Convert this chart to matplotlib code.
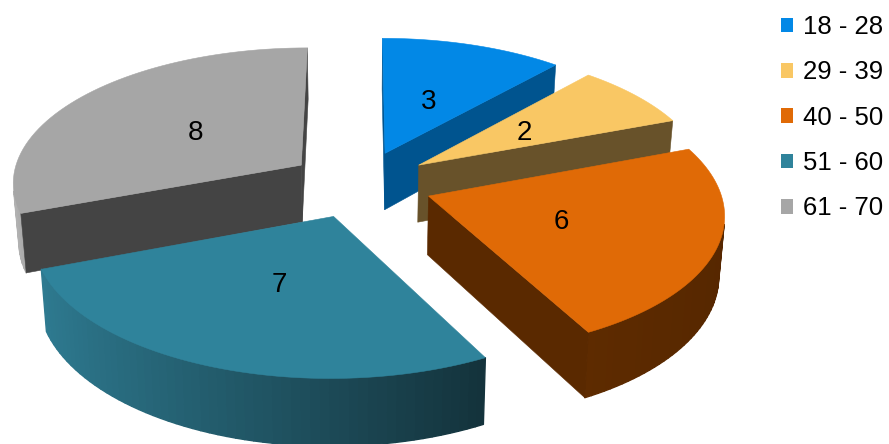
#! /usr/bin/env python
import numpy as np
import matplotlib
matplotlib.use("Agg")
import matplotlib.pyplot as plt
from matplotlib.patches import Polygon, Patch
from matplotlib.colors import LinearSegmentedColormap

plt.rcParams["font.family"] = ["Liberation Sans", "DejaVu Sans"]

# Chart data
age_groups = ["18 - 28", "29 - 39", "40 - 50", "51 - 60", "61 - 70"]
counts = [3, 2, 6, 7, 8]

# Colours for top face, flat cut faces, outer wall left and right
top_colours = ["#0288e6", "#f9c764", "#e06a06", "#2f839b", "#a6a6a6"]
cut_colours = ["#00548f", "#68522a", "#5a2900", "#1f5566", "#444444"]
wall_left = ["#00609f", "#7a6030", "#5e2b00", "#2e7a90", "#b4b4b4"]
wall_right = ["#003d66", "#5a4520", "#562700", "#14333c", "#303030"]
draw_order = [4, 0, 1, 2, 3]

# Projection settings, in pixels of the 889x444 image
centre_x, centre_y = 360, 184
radius_x, radius_y = 290, 135
camera_dist = 8.6
thickness = 58
explode = 0.25
label_radius = 0.47
label_drop = 2


def project(x, y, z=0.0):
    # Small perspective: far things shrink, and the underside shrinks a bit too
    scale = camera_dist / (camera_dist + y)
    px = centre_x + radius_x * x * scale * (1 - 0.016 * z)
    py = centre_y - radius_y * y * scale + thickness * z * scale
    return px, py


def signed_area(points):
    xs, ys = np.array(points).T
    return 0.5 * np.sum(xs * np.roll(ys, -1) - np.roll(xs, -1) * ys)


def add_face(axes, points, colour, zorder, width=0.4):
    # Only faces turned towards the viewer get drawn
    if signed_area(points) < 0:
        axes.add_patch(Polygon(points, closed=True, facecolor=colour, edgecolor=colour,
                               linewidth=width, joinstyle="round", zorder=zorder))


figure = plt.figure(figsize=(8.89, 4.44), dpi=100)
axes = figure.add_axes([0, 0, 1, 1])
axes.set_xlim(0, 889)
axes.set_ylim(444, 0)
axes.axis("off")

edges = np.concatenate([[0], np.cumsum(counts)]) / np.sum(counts) * 2 * np.pi

for layer, i in enumerate(draw_order):
    start, end = edges[i], edges[i + 1]
    middle = 0.5 * (start + end)
    apex_x = explode * np.sin(middle)
    apex_y = explode * np.cos(middle)
    angles = np.linspace(start, end, 60)
    rim_x = apex_x + np.sin(angles)
    rim_y = apex_y + np.cos(angles)
    zorder = 10 * (layer + 1)

    # Outer wall in small strips, shaded from left to right across this slice
    cmap = LinearSegmentedColormap.from_list("wall", [wall_left[i], wall_right[i]])
    for j in range(len(angles) - 1):
        quad = [project(rim_x[j], rim_y[j], 0), project(rim_x[j + 1], rim_y[j + 1], 0),
                project(rim_x[j + 1], rim_y[j + 1], 1), project(rim_x[j], rim_y[j], 1)]
        share = (rim_x[j] - rim_x.min()) / (rim_x.max() - rim_x.min())
        add_face(axes, quad, cmap(share), zorder, width=1.0)

    # Flat cut faces from the apex out to the rim
    add_face(axes, [project(apex_x, apex_y, 0), project(rim_x[0], rim_y[0], 0),
                    project(rim_x[0], rim_y[0], 1), project(apex_x, apex_y, 1)],
             cut_colours[i], zorder + 1)
    add_face(axes, [project(rim_x[-1], rim_y[-1], 0), project(apex_x, apex_y, 0),
                    project(apex_x, apex_y, 1), project(rim_x[-1], rim_y[-1], 1)],
             cut_colours[i], zorder + 1)

    # Top face
    outline = [project(apex_x, apex_y)] + [project(a, b) for a, b in zip(rim_x, rim_y)]
    axes.add_patch(Polygon(outline, closed=True, facecolor=top_colours[i],
                           edgecolor=top_colours[i], linewidth=0.4, zorder=zorder + 2))

    # Value label
    label_x, label_y = project(apex_x + label_radius * np.sin(middle),
                               apex_y + label_radius * np.cos(middle))
    axes.text(label_x, label_y + label_drop, str(counts[i]), ha="center", va="center",
              fontsize=20, color="black", zorder=100)

# Legend
handles = [Patch(facecolor=c, edgecolor="none", label=n) for c, n in zip(top_colours, age_groups)]
axes.legend(handles=handles, loc="upper left", bbox_to_anchor=(0.878, 0.966), frameon=False,
            fontsize=18.5, handlelength=0.5, handleheight=0.5, handletextpad=0.36,
            labelspacing=0.83, borderpad=0, borderaxespad=0)

figure.savefig("out.png", dpi=100)
plt.close(figure)
